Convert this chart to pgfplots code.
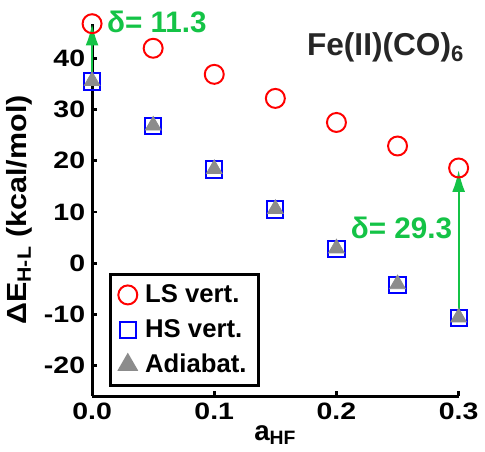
\documentclass[border=0pt]{standalone}
\usepackage{fontspec}
\setmainfont{Liberation Sans}
\usepackage{pgfplots}
\pgfplotsset{compat=1.18}
\usetikzlibrary{arrows.meta}
\definecolor{dgreen}{RGB}{20,195,70}
\definecolor{tgray}{RGB}{140,140,140}
\begin{document}
\begin{tikzpicture}
\begin{axis}[
    width=185.5pt, height=188.5pt, scale only axis,
    xmin=0, xmax=0.3, ymin=-26, ymax=46.8,
    axis lines*=left,
    axis line style={line width=1.5pt},
    tick style={line width=1.5pt, black},
    major tick length=2.5pt,
    tick align=inside,
    xtick={0,0.1,0.2,0.3},
    ytick={-20,-10,0,10,20,30,40},
    /pgf/number format/assume math mode=true,
    xticklabel={\scalebox{1.2}[1]{\pgfmathprintnumber[fixed,fixed zerofill,precision=1]{\tick}}},
    yticklabel={\scalebox{1.2}[1]{\pgfmathprintnumber{\tick}}},
    ticklabel style={font=\fontsize{12}{14}\selectfont\bfseries},
    clip=false,
    xlabel={\textbf{a\textsubscript{HF}}},
    ylabel={\scalebox{1.1}[1]{\textbf{ΔE\textsubscript{H-L} (kcal/mol)}}},
    label style={font=\fontsize{14}{16}\selectfont},
    ylabel style={yshift=-1pt},
    xlabel style={yshift=4pt},
    legend style={at={(0.046,0.025)}, anchor=south west, line width=1.5pt, draw=black,
        font=\fontsize{13}{15}\selectfont\bfseries, row sep=3pt, inner xsep=4pt, inner ysep=3pt,
        column sep=2pt},
    legend cell align=left,
]
\addplot[only marks, mark=o, mark size=4.8pt, red, mark options={line width=1pt}]
    coordinates {(0,46.8)(0.05,42.0)(0.1,36.9)(0.15,32.2)(0.2,27.5)(0.25,22.9)(0.3,18.6)};
\addplot[only marks, mark=square, mark size=4.1pt, blue, mark options={line width=1pt}]
    coordinates {(0,35.5)(0.05,26.8)(0.1,18.3)(0.15,10.5)(0.2,2.8)(0.25,-4.2)(0.3,-10.7)};
\addplot[only marks, mark=triangle*, mark size=4.6pt, tgray, mark options={fill=tgray}]
    coordinates {(0,35.6)(0.05,26.9)(0.1,18.4)(0.15,10.6)(0.2,2.9)(0.25,-4.1)(0.3,-10.6)};
\legend{LS vert.,HS vert.,Adiabat.}
\draw[dgreen, line width=1pt, -{Latex[length=11pt,width=6.5pt]}] (axis cs:0,35.5) -- (axis cs:0,46.8);
\draw[dgreen, line width=1pt, -{Latex[length=11pt,width=6.5pt]}] (axis cs:0.3,-10.7) -- (axis cs:0.3,18.2);
\node[dgreen, anchor=base west, inner sep=0pt, font=\fontsize{15}{17}\selectfont\bfseries] at (axis cs:0.012,45.1) {δ= 11.3};
\node[dgreen, anchor=base east, inner sep=0pt, font=\fontsize{15}{17}\selectfont\bfseries] at (axis cs:0.295,4.9) {δ= 29.3};
\node[anchor=base east, inner sep=0pt, font=\fontsize{16}{18}\selectfont\bfseries, text=black!85] at (axis cs:0.305,40.5) {Fe(II)(CO)\textsubscript{6}};
\path ([yshift=12pt]axis cs:0,46.8) coordinate (topedge);
\end{axis}
\end{tikzpicture}
\end{document}
